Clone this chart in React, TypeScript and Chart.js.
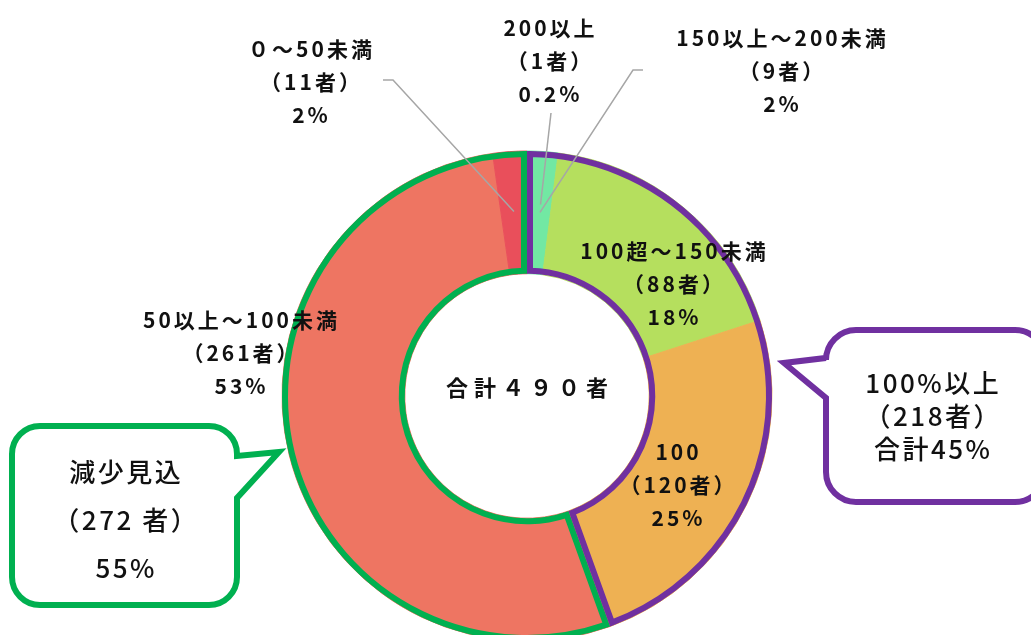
import React, { useEffect, useRef } from 'react';
import { Chart, registerables } from 'chart.js';

Chart.register(...registerables);

// ---- data ----
const categories = ['200以上', '150以上～200未満', '100超～150未満', '100', '50以上～100未満', '０～50未満'];
const counts = [1, 9, 88, 120, 261, 11];
const percentLabels = ['0.2%', '2%', '18%', '25%', '53%', '2%'];
const sliceColors = ['#5fd6c4', '#72e8a3', '#b5df5e', '#eeb153', '#ee7562', '#e94f5b'];
const totalLabel = '合計４９０者';

// group callouts
const increaseGroup = [0, 1, 2, 3];
const decreaseGroup = [4, 5];
const increaseLines = ['100%以上', '（218者）', '合計45%'];
const decreaseLines = ['減少見込', '（272 者）', '55%'];

// ---- layout (label anchors, not data) ----
const labelAnchors = [
  { x: 549, y: 28 },
  { x: 781, y: 38 },
  { x: 673, y: 251 },
  { x: 677, y: 452 },
  { x: 240, y: 320 },
  { x: 310, y: 49 },
];
const LINE_GAP = 33;

const leaders = [
  { from: [[383, 80], [393, 80]], target: 5, r: 185 },
  { from: [[551, 113]], target: 1, r: 192 },
  { from: [[643, 70], [633, 70]], target: 1, r: 184 },
];

const PURPLE = '#7030a0';
const GREEN = '#00b050';
const FONT = '"Noto Sans CJK JP", "Noto Sans", sans-serif';

function arcPoint(chart: any, index: number, r: number) {
  const arc = chart.getDatasetMeta(0).data[index] as any;
  const p = arc.getProps(['x', 'y', 'startAngle', 'endAngle'], true);
  const a = (p.startAngle + p.endAngle) / 2;
  return [p.x + r * Math.cos(a), p.y + r * Math.sin(a)];
}

function drawGroupOutline(chart: any, indices: number[], color: string) {
  const ctx = chart.ctx as CanvasRenderingContext2D;
  const arcs = chart.getDatasetMeta(0).data as any[];
  const first = arcs[indices[0]].getProps(['x', 'y', 'startAngle', 'innerRadius', 'outerRadius'], true);
  const last = arcs[indices[indices.length - 1]].getProps(['endAngle'], true);
  const w = 6;
  const h = w / 2;
  const Ro = first.outerRadius - h;
  const Ri = first.innerRadius + h;
  const a0 = first.startAngle;
  const a1 = last.endAngle;
  ctx.save();
  ctx.beginPath();
  ctx.arc(first.x, first.y, Ro, a0 + h / Ro, a1 - h / Ro);
  ctx.arc(first.x, first.y, Ri, a1 - h / Ri, a0 + h / Ri, true);
  ctx.closePath();
  ctx.lineWidth = w;
  ctx.lineJoin = 'miter';
  ctx.strokeStyle = color;
  ctx.stroke();
  ctx.restore();
}

function roundedCallout(
  ctx: CanvasRenderingContext2D,
  l: number, t: number, r: number, b: number, rad: number,
  side: 'left' | 'right', baseTop: number, baseBottom: number, tip: [number, number],
  color: string,
) {
  ctx.save();
  ctx.beginPath();
  ctx.moveTo(l + rad, t);
  ctx.lineTo(r - rad, t);
  ctx.arcTo(r, t, r, t + rad, rad);
  if (side === 'right') {
    ctx.lineTo(r, baseTop);
    ctx.lineTo(tip[0], tip[1]);
    ctx.lineTo(r, baseBottom);
  }
  ctx.lineTo(r, b - rad);
  ctx.arcTo(r, b, r - rad, b, rad);
  ctx.lineTo(l + rad, b);
  ctx.arcTo(l, b, l, b - rad, rad);
  if (side === 'left') {
    ctx.lineTo(l, baseBottom);
    ctx.lineTo(tip[0], tip[1]);
    ctx.lineTo(l, baseTop);
  }
  ctx.lineTo(l, t + rad);
  ctx.arcTo(l, t, l + rad, t, rad);
  ctx.closePath();
  ctx.fillStyle = '#ffffff';
  ctx.fill();
  ctx.lineWidth = 6;
  ctx.lineJoin = 'miter';
  ctx.strokeStyle = color;
  ctx.stroke();
  ctx.restore();
}

function spacedText(ctx: CanvasRenderingContext2D, text: string, x: number, y: number, spacing: number) {
  (ctx as any).letterSpacing = `${spacing}px`;
  ctx.fillText(text, x + spacing / 2, y);
  (ctx as any).letterSpacing = '0px';
}

const overlayPlugin = {
  id: 'overlay',
  afterDatasetsDraw(chart: any) {
    drawGroupOutline(chart, decreaseGroup, GREEN);
    drawGroupOutline(chart, increaseGroup, PURPLE);
  },
  afterDraw(chart: any) {
    const ctx = chart.ctx as CanvasRenderingContext2D;
    ctx.save();
    // leader lines
    ctx.strokeStyle = '#a6a6a6';
    ctx.lineWidth = 1.5;
    leaders.forEach((ld) => {
      const end = arcPoint(chart, ld.target, ld.r);
      ctx.beginPath();
      ld.from.forEach((p, i) => (i === 0 ? ctx.moveTo(p[0], p[1]) : ctx.lineTo(p[0], p[1])));
      ctx.lineTo(end[0], end[1]);
      ctx.stroke();
    });

    // slice labels
    ctx.fillStyle = '#111111';
    ctx.textAlign = 'center';
    ctx.textBaseline = 'middle';
    ctx.font = `bold 21px ${FONT}`;
    categories.forEach((c, i) => {
      const a = labelAnchors[i];
      const lines = [c, `（${counts[i]}者）`, percentLabels[i]];
      lines.forEach((ln, k) => spacedText(ctx, ln, a.x, a.y + k * LINE_GAP, 3));
    });

    // center total
    const meta = chart.getDatasetMeta(0).data[0] as any;
    const c = meta.getProps(['x', 'y'], true);
    ctx.font = `bold 22px ${FONT}`;
    spacedText(ctx, totalLabel, c.x, c.y - 8, 6);

    // callouts
    roundedCallout(ctx, 12, 426, 237, 605, 28, 'right', 456, 498, [279, 452], GREEN);
    roundedCallout(ctx, 826, 330, 1045, 502, 30, 'left', 358, 398, [784, 363], PURPLE);

    ctx.fillStyle = '#111111';
    ctx.font = `500 26px ${FONT}`;
    decreaseLines.forEach((ln, k) => spacedText(ctx, ln, 125, 472 + k * 48, 2.5));
    increaseLines.forEach((ln, k) => spacedText(ctx, ln, 932, 383 + k * 33, 2.5));
    ctx.restore();
  },
};

export default function App() {
  const ref = useRef<HTMLCanvasElement>(null);
  useEffect(() => {
    const canvas = ref.current;
    if (!canvas) return;
    const chart = new Chart(canvas, {
      type: 'doughnut',
      data: {
        labels: categories,
        datasets: [
          {
            data: counts,
            backgroundColor: sliceColors,
            borderColor: sliceColors,
            borderWidth: 1,
            hoverOffset: 0,
          },
        ],
      },
      options: {
        responsive: false,
        animation: false,
        devicePixelRatio: 1,
        radius: 245,
        cutout: 122,
        rotation: 0,
        events: [],
        layout: { padding: { left: 282, right: 259, top: 151, bottom: 59 } },
        plugins: { legend: { display: false }, tooltip: { enabled: false } },
      } as any,
      plugins: [overlayPlugin],
    });
    return () => chart.destroy();
  }, []);
  return (
    <div style={{ position: 'fixed', left: 0, top: 0, width: 1031, height: 635, overflow: 'hidden', background: '#ffffff' }}>
      <canvas ref={ref} width={1031} height={700} style={{ display: 'block', width: 1031, height: 700 }} />
    </div>
  );
}
